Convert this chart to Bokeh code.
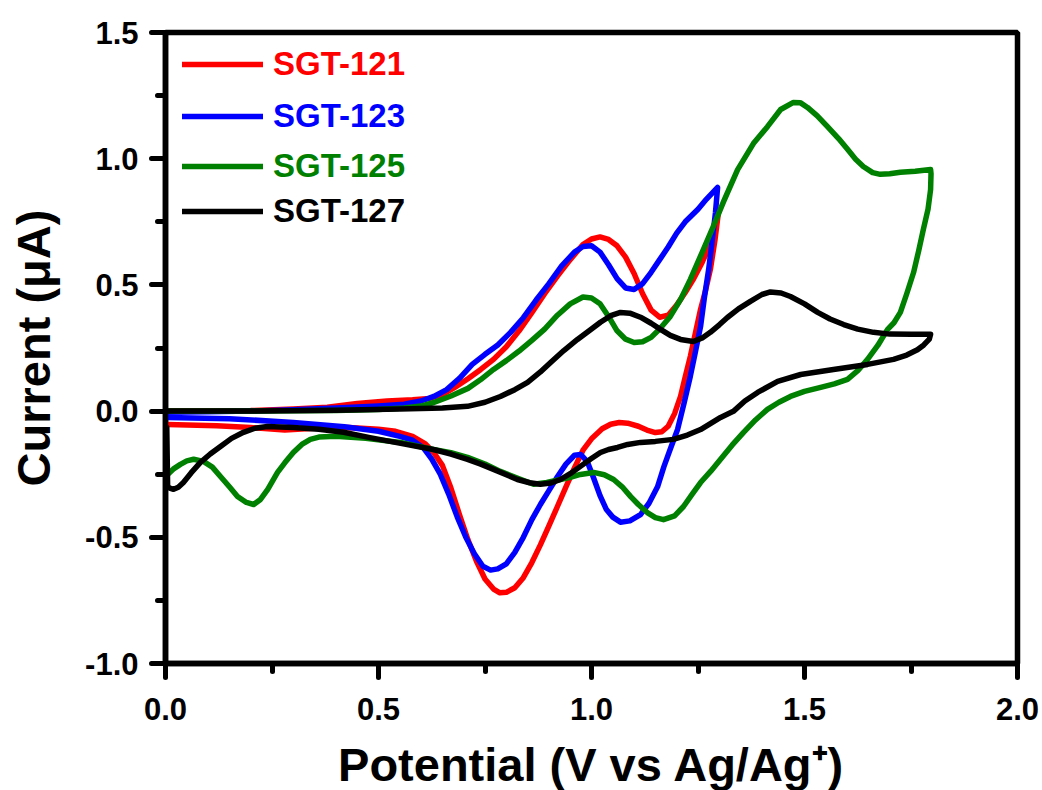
from bokeh.plotting import figure
from bokeh.models import (Range1d, SingleIntervalTicker, NumeralTickFormatter, Legend, LegendItem,
                          GlobalInlineStyleSheet)
from bokeh.embed import file_html
from bokeh.resources import INLINE

# ---------------- data (Potential V vs Ag/Ag+, Current uA) ----------------
series_names = ["SGT-121", "SGT-123", "SGT-125", "SGT-127"]
series_colors = ["#ff0000", "#0000ff", "#008000", "#000000"]

sgt121_v = [0.00, 0.10, 0.20, 0.30, 0.38, 0.45, 0.52, 0.58, 0.62, 0.65, 0.68, 0.71, 0.74, 0.77, 0.80,
            0.83, 0.86, 0.89, 0.92, 0.95, 0.98, 1.00, 1.02, 1.04, 1.06, 1.08, 1.10, 1.12, 1.14, 1.16,
            1.18, 1.20, 1.22, 1.24, 1.26, 1.28, 1.29, 1.298,
            1.290, 1.279, 1.268, 1.256, 1.244, 1.232, 1.220, 1.209, 1.195, 1.180, 1.165, 1.150, 1.130,
            1.110, 1.085, 1.065, 1.045, 1.025, 1.000, 0.980, 0.960, 0.940, 0.920, 0.900, 0.880, 0.860,
            0.840, 0.820, 0.800, 0.785, 0.770, 0.750, 0.730, 0.710, 0.690, 0.670, 0.650, 0.630, 0.610,
            0.580, 0.540, 0.500, 0.430, 0.350, 0.280, 0.200, 0.120, 0.005]
sgt121_i = [0.000, 0.000, 0.002, 0.008, 0.015, 0.030, 0.040, 0.045, 0.050, 0.065, 0.095, 0.128, 0.165,
            0.205, 0.255, 0.318, 0.390, 0.465, 0.535, 0.600, 0.660, 0.682, 0.690, 0.680, 0.655, 0.610,
            0.545, 0.465, 0.400, 0.372, 0.380, 0.420, 0.470, 0.525, 0.590, 0.665, 0.720, 0.787,
            0.680, 0.561, 0.480, 0.403, 0.310, 0.217, 0.135, 0.058, -0.010, -0.060, -0.082, -0.085,
            -0.075, -0.060, -0.048, -0.045, -0.052, -0.070, -0.110, -0.155, -0.225, -0.300, -0.378,
            -0.455, -0.530, -0.600, -0.660, -0.700, -0.718, -0.720, -0.705, -0.665, -0.595, -0.510,
            -0.410, -0.305, -0.215, -0.165, -0.130, -0.100, -0.080, -0.072, -0.065, -0.068, -0.075,
            -0.065, -0.058, -0.053]

sgt123_v = [0.00, 0.10, 0.20, 0.30, 0.40, 0.50, 0.56, 0.60, 0.63, 0.66, 0.69, 0.72, 0.75, 0.78, 0.81,
            0.84, 0.87, 0.90, 0.93, 0.96, 0.98, 1.00, 1.02, 1.04, 1.06, 1.08, 1.10, 1.12, 1.14, 1.16,
            1.18, 1.20, 1.22, 1.25, 1.27, 1.296,
            1.291, 1.283, 1.275, 1.265, 1.256, 1.244, 1.232, 1.217, 1.202, 1.185, 1.170, 1.155, 1.135,
            1.115, 1.090, 1.068, 1.050, 1.035, 1.020, 1.005, 0.990, 0.975, 0.960, 0.940, 0.920, 0.900,
            0.880, 0.860, 0.840, 0.820, 0.800, 0.780, 0.763, 0.745, 0.725, 0.705, 0.685, 0.665, 0.645,
            0.625, 0.605, 0.580, 0.550, 0.500, 0.420, 0.300, 0.150, 0.005]
sgt123_i = [-0.005, -0.003, 0.000, 0.005, 0.012, 0.020, 0.027, 0.040, 0.058, 0.085, 0.130, 0.185, 0.225,
            0.262, 0.312, 0.370, 0.440, 0.505, 0.575, 0.630, 0.652, 0.655, 0.630, 0.580, 0.525, 0.488,
            0.482, 0.505, 0.550, 0.600, 0.650, 0.705, 0.750, 0.800, 0.840, 0.886,
            0.787, 0.670, 0.561, 0.450, 0.335, 0.235, 0.138, 0.030, -0.073, -0.150, -0.220, -0.300,
            -0.365, -0.410, -0.435, -0.440, -0.420, -0.390, -0.335, -0.265, -0.200, -0.172, -0.175,
            -0.210, -0.260, -0.315, -0.370, -0.430, -0.500, -0.560, -0.605, -0.625, -0.630, -0.615,
            -0.565, -0.500, -0.420, -0.330, -0.250, -0.190, -0.145, -0.115, -0.100, -0.080, -0.062,
            -0.045, -0.030, -0.025]

sgt125_v = [0.00, 0.20, 0.40, 0.50, 0.56, 0.60, 0.63, 0.67, 0.71, 0.74, 0.77, 0.80, 0.83, 0.86, 0.89,
            0.92, 0.95, 0.98, 1.00, 1.02, 1.04, 1.06, 1.08, 1.10, 1.12, 1.14, 1.16, 1.185, 1.21, 1.232,
            1.26, 1.286, 1.31, 1.343, 1.38, 1.413, 1.444, 1.474, 1.49, 1.507, 1.53, 1.554, 1.58, 1.601,
            1.62, 1.638, 1.66, 1.678, 1.70, 1.725, 1.76, 1.796,
            1.797, 1.796, 1.790, 1.779, 1.768, 1.756, 1.740, 1.725, 1.710, 1.695, 1.672, 1.648, 1.625,
            1.601, 1.570, 1.538, 1.500, 1.467, 1.440, 1.413, 1.385, 1.357, 1.330, 1.303, 1.280, 1.256,
            1.236, 1.216, 1.195, 1.169, 1.150, 1.131, 1.110, 1.092, 1.072, 1.052, 1.030, 1.005, 0.974,
            0.950, 0.927, 0.895, 0.864, 0.830, 0.786, 0.750, 0.709, 0.670, 0.629, 0.552, 0.470, 0.400,
            0.360, 0.340, 0.320, 0.300, 0.280, 0.263, 0.240, 0.223, 0.207, 0.190, 0.169, 0.150, 0.129,
            0.110, 0.089, 0.066, 0.050, 0.035, 0.018, 0.005]
sgt125_i = [0.000, 0.000, 0.002, 0.006, 0.012, 0.020, 0.034, 0.060, 0.090, 0.125, 0.165, 0.200, 0.238,
            0.280, 0.325, 0.380, 0.425, 0.452, 0.448, 0.425, 0.375, 0.318, 0.285, 0.272, 0.275, 0.292,
            0.325, 0.375, 0.445, 0.522, 0.630, 0.732, 0.830, 0.957, 1.060, 1.127, 1.195, 1.223, 1.222,
            1.203, 1.170, 1.127, 1.080, 1.037, 0.998, 0.969, 0.945, 0.938, 0.940, 0.946, 0.950, 0.957,
            0.940, 0.878, 0.800, 0.720, 0.635, 0.549, 0.465, 0.391, 0.350, 0.324, 0.260, 0.205, 0.160,
            0.126, 0.108, 0.094, 0.078, 0.058, 0.035, 0.007, -0.035, -0.084, -0.135, -0.191, -0.238,
            -0.283, -0.330, -0.378, -0.415, -0.430, -0.422, -0.402, -0.370, -0.339, -0.300, -0.271,
            -0.252, -0.243, -0.251, -0.262, -0.271, -0.283, -0.290, -0.268, -0.239, -0.210, -0.183,
            -0.165, -0.152, -0.124, -0.108, -0.100, -0.103, -0.112, -0.132, -0.164, -0.205, -0.243,
            -0.310, -0.350, -0.370, -0.362, -0.338, -0.300, -0.259, -0.222, -0.199, -0.191, -0.197,
            -0.211, -0.230, -0.251]

sgt127_v = [0.00, 0.20, 0.40, 0.55, 0.65, 0.709, 0.75, 0.786, 0.82, 0.850, 0.88, 0.904, 0.935, 0.967,
            1.00, 1.021, 1.045, 1.068, 1.09, 1.115, 1.14, 1.162, 1.185, 1.209, 1.239, 1.26, 1.279, 1.30,
            1.319, 1.345, 1.373, 1.40, 1.420, 1.445, 1.467, 1.50, 1.531, 1.560, 1.592, 1.625, 1.662,
            1.70, 1.750, 1.796,
            1.793, 1.780, 1.765, 1.740, 1.709, 1.648, 1.568, 1.491, 1.437, 1.390, 1.360, 1.333, 1.303,
            1.256, 1.225, 1.192, 1.150, 1.115, 1.085, 1.061, 1.040, 1.021, 0.998, 0.974, 0.950, 0.927,
            0.905, 0.880, 0.855, 0.826, 0.800, 0.770, 0.740, 0.709, 0.670, 0.629, 0.552, 0.480, 0.418,
            0.360, 0.300, 0.239, 0.210, 0.183, 0.155, 0.129, 0.105, 0.082, 0.060, 0.042, 0.030, 0.019,
            0.010, 0.005, 0.003]
sgt127_i = [0.000, 0.000, 0.003, 0.008, 0.012, 0.019, 0.035, 0.058, 0.085, 0.114, 0.155, 0.193, 0.240,
            0.284, 0.325, 0.352, 0.378, 0.391, 0.388, 0.372, 0.348, 0.324, 0.300, 0.284, 0.276, 0.290,
            0.312, 0.342, 0.371, 0.405, 0.435, 0.462, 0.472, 0.468, 0.454, 0.425, 0.391, 0.365, 0.343,
            0.325, 0.312, 0.305, 0.304, 0.304,
            0.285, 0.262, 0.243, 0.222, 0.205, 0.185, 0.165, 0.145, 0.118, 0.074, 0.040, -0.001, -0.025,
            -0.073, -0.095, -0.112, -0.120, -0.124, -0.132, -0.144, -0.152, -0.164, -0.190, -0.219,
            -0.248, -0.271, -0.285, -0.290, -0.284, -0.271, -0.252, -0.231, -0.210, -0.191, -0.170,
            -0.152, -0.128, -0.105, -0.084, -0.072, -0.065, -0.061, -0.068, -0.084, -0.108, -0.140,
            -0.170, -0.203, -0.245, -0.283, -0.302, -0.310, -0.305, -0.298, -0.065]

x_title = "Potential (V vs Ag/Ag\u207a)"
y_title = "Current (\u03bcA)"

FONT = "Liberation Sans"

p = figure(frame_width=852, frame_height=631, output_backend="svg", toolbar_location=None,
           x_range=Range1d(0.0, 2.0), y_range=Range1d(-1.0, 1.5),
           min_border_left=165, min_border_right=25, min_border_top=32, min_border_bottom=100)
p.stylesheets = [GlobalInlineStyleSheet(css="html, body { overflow: hidden; }")]
p.grid.visible = False
p.background_fill_color = "white"
p.border_fill_color = "white"
p.outline_line_color = "black"
p.outline_line_width = 5.5

for ax in (p.xaxis[0], p.yaxis[0]):
    ax.ticker = SingleIntervalTicker(interval=0.5, num_minor_ticks=2)
    ax.formatter = NumeralTickFormatter(format="0.0")
    ax.axis_line_width = 5.5
    ax.axis_line_color = "black"
    ax.major_tick_in = 0
    ax.major_tick_out = 14
    ax.minor_tick_in = 0
    ax.minor_tick_out = 8
    ax.major_tick_line_width = 5
    ax.minor_tick_line_width = 5
    ax.major_tick_line_cap = "round"
    ax.minor_tick_line_cap = "round"
    ax.major_label_text_font = FONT
    ax.major_label_text_font_style = "bold"
    ax.major_label_text_font_size = "31px"
    ax.major_label_text_color = "black"
    ax.axis_label_text_font = FONT
    ax.axis_label_text_font_style = "bold"
    ax.axis_label_text_font_size = "47px"
    ax.axis_label_text_color = "black"
p.xaxis[0].major_label_standoff = 20
p.yaxis[0].major_label_standoff = 13
p.xaxis[0].axis_label = x_title
p.yaxis[0].axis_label = y_title
p.xaxis[0].axis_label_standoff = 15
p.yaxis[0].axis_label_standoff = 22

data = [(sgt121_v, sgt121_i), (sgt123_v, sgt123_i), (sgt125_v, sgt125_i), (sgt127_v, sgt127_i)]
renderers = []
for (v, i), c in zip(data, series_colors):
    r = p.line(v, i, line_color=c, line_width=5.5, line_join="round", line_cap="round")
    renderers.append(r)

# one single-item legend per series so that each label keeps its own colour
legend_rows = [580, 528, 478, 433]
for name, c, r, vy in zip(series_names, series_colors, renderers, legend_rows):
    lg = Legend(items=[LegendItem(label=name, renderers=[r])], location=(17, vy),
                padding=0, margin=0, spacing=0, border_line_color=None,
                background_fill_alpha=0, glyph_width=81, glyph_height=36, label_height=36,
                label_standoff=10, label_text_font=FONT, label_text_font_style="bold",
                label_text_font_size="33px", label_text_color=c)
    p.add_layout(lg)

open("out.html", "w").write(file_html(p, INLINE))
